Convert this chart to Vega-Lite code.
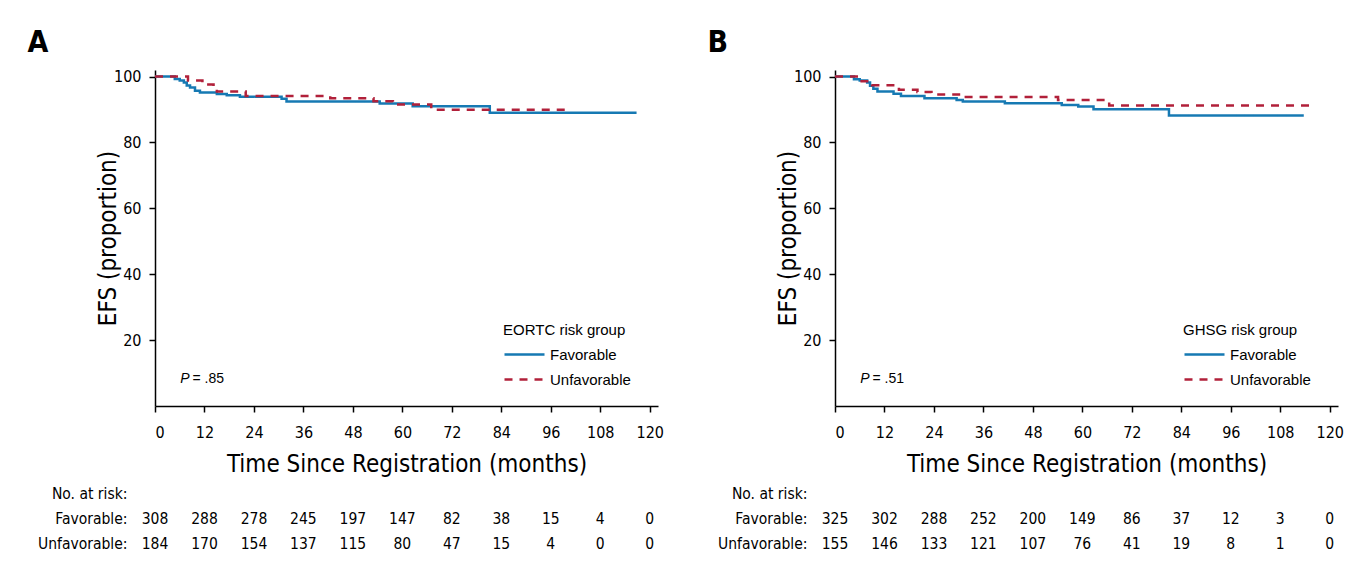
{
  "$schema": "https://vega.github.io/schema/vega-lite/v6.json",
  "background": "white",
  "padding": {"left": 27, "top": 27, "right": 5, "bottom": 5},
  "datasets": {
    "kmA": [
      {"group": "Favorable", "month": 0, "efs": 100},
      {"group": "Favorable", "month": 4.8, "efs": 99.3},
      {"group": "Favorable", "month": 6, "efs": 98.8},
      {"group": "Favorable", "month": 7, "efs": 98.2},
      {"group": "Favorable", "month": 7.7, "efs": 97.3},
      {"group": "Favorable", "month": 8.5, "efs": 96.7},
      {"group": "Favorable", "month": 9.7, "efs": 95.7},
      {"group": "Favorable", "month": 10.9, "efs": 95.2},
      {"group": "Favorable", "month": 15, "efs": 94.7},
      {"group": "Favorable", "month": 17.4, "efs": 94.3},
      {"group": "Favorable", "month": 20.6, "efs": 93.9},
      {"group": "Favorable", "month": 30.7, "efs": 93.3},
      {"group": "Favorable", "month": 31.9, "efs": 92.4},
      {"group": "Favorable", "month": 54.5, "efs": 91.8},
      {"group": "Favorable", "month": 62.5, "efs": 91.0},
      {"group": "Favorable", "month": 81.2, "efs": 89.0},
      {"group": "Favorable", "month": 116.8, "efs": 89.0},
      {"group": "Unfavorable", "month": 0, "efs": 100},
      {"group": "Unfavorable", "month": 8, "efs": 98.8},
      {"group": "Unfavorable", "month": 11.5, "efs": 97.6},
      {"group": "Unfavorable", "month": 14.2, "efs": 96.6},
      {"group": "Unfavorable", "month": 15, "efs": 95.5},
      {"group": "Unfavorable", "month": 22, "efs": 94.1},
      {"group": "Unfavorable", "month": 42.5, "efs": 93.4},
      {"group": "Unfavorable", "month": 53, "efs": 92.5},
      {"group": "Unfavorable", "month": 57.7, "efs": 91.5},
      {"group": "Unfavorable", "month": 67, "efs": 89.9},
      {"group": "Unfavorable", "month": 100.5, "efs": 89.9}
    ],
    "kmB": [
      {"group": "Favorable", "month": 0, "efs": 100},
      {"group": "Favorable", "month": 4.6, "efs": 99.2},
      {"group": "Favorable", "month": 6, "efs": 98.8},
      {"group": "Favorable", "month": 7.8, "efs": 98.2},
      {"group": "Favorable", "month": 8.5, "efs": 97.2},
      {"group": "Favorable", "month": 9.3, "efs": 96.3},
      {"group": "Favorable", "month": 10.3, "efs": 95.5},
      {"group": "Favorable", "month": 14.2, "efs": 94.8},
      {"group": "Favorable", "month": 16, "efs": 94.1},
      {"group": "Favorable", "month": 21.7, "efs": 93.4},
      {"group": "Favorable", "month": 29.5, "efs": 92.9},
      {"group": "Favorable", "month": 31, "efs": 92.4},
      {"group": "Favorable", "month": 41.2, "efs": 91.9},
      {"group": "Favorable", "month": 55, "efs": 91.4},
      {"group": "Favorable", "month": 59, "efs": 90.9},
      {"group": "Favorable", "month": 62.7, "efs": 90.1},
      {"group": "Favorable", "month": 81, "efs": 88.2},
      {"group": "Favorable", "month": 113.7, "efs": 88.2},
      {"group": "Unfavorable", "month": 0, "efs": 100},
      {"group": "Unfavorable", "month": 6, "efs": 98.6},
      {"group": "Unfavorable", "month": 9, "efs": 97.4},
      {"group": "Unfavorable", "month": 15.5, "efs": 96.0},
      {"group": "Unfavorable", "month": 20, "efs": 95.3},
      {"group": "Unfavorable", "month": 23.4, "efs": 94.6},
      {"group": "Unfavorable", "month": 30.5, "efs": 93.8},
      {"group": "Unfavorable", "month": 54.1, "efs": 92.9},
      {"group": "Unfavorable", "month": 66.5, "efs": 91.2},
      {"group": "Unfavorable", "month": 115.6, "efs": 91.2}
    ],
    "riskA": [
      {"group": "Favorable", "month": 0, "n": 308},
      {"group": "Favorable", "month": 12, "n": 288},
      {"group": "Favorable", "month": 24, "n": 278},
      {"group": "Favorable", "month": 36, "n": 245},
      {"group": "Favorable", "month": 48, "n": 197},
      {"group": "Favorable", "month": 60, "n": 147},
      {"group": "Favorable", "month": 72, "n": 82},
      {"group": "Favorable", "month": 84, "n": 38},
      {"group": "Favorable", "month": 96, "n": 15},
      {"group": "Favorable", "month": 108, "n": 4},
      {"group": "Favorable", "month": 120, "n": 0},
      {"group": "Unfavorable", "month": 0, "n": 184},
      {"group": "Unfavorable", "month": 12, "n": 170},
      {"group": "Unfavorable", "month": 24, "n": 154},
      {"group": "Unfavorable", "month": 36, "n": 137},
      {"group": "Unfavorable", "month": 48, "n": 115},
      {"group": "Unfavorable", "month": 60, "n": 80},
      {"group": "Unfavorable", "month": 72, "n": 47},
      {"group": "Unfavorable", "month": 84, "n": 15},
      {"group": "Unfavorable", "month": 96, "n": 4},
      {"group": "Unfavorable", "month": 108, "n": 0},
      {"group": "Unfavorable", "month": 120, "n": 0}
    ],
    "riskB": [
      {"group": "Favorable", "month": 0, "n": 325},
      {"group": "Favorable", "month": 12, "n": 302},
      {"group": "Favorable", "month": 24, "n": 288},
      {"group": "Favorable", "month": 36, "n": 252},
      {"group": "Favorable", "month": 48, "n": 200},
      {"group": "Favorable", "month": 60, "n": 149},
      {"group": "Favorable", "month": 72, "n": 86},
      {"group": "Favorable", "month": 84, "n": 37},
      {"group": "Favorable", "month": 96, "n": 12},
      {"group": "Favorable", "month": 108, "n": 3},
      {"group": "Favorable", "month": 120, "n": 0},
      {"group": "Unfavorable", "month": 0, "n": 155},
      {"group": "Unfavorable", "month": 12, "n": 146},
      {"group": "Unfavorable", "month": 24, "n": 133},
      {"group": "Unfavorable", "month": 36, "n": 121},
      {"group": "Unfavorable", "month": 48, "n": 107},
      {"group": "Unfavorable", "month": 60, "n": 76},
      {"group": "Unfavorable", "month": 72, "n": 41},
      {"group": "Unfavorable", "month": 84, "n": 19},
      {"group": "Unfavorable", "month": 96, "n": 8},
      {"group": "Unfavorable", "month": 108, "n": 1},
      {"group": "Unfavorable", "month": 120, "n": 0}
    ]
  },
  "hconcat": [
    {
      "title": {"text": "A", "anchor": "start", "offset": 11, "dx": -10},
      "spacing": 5,
      "vconcat": [
        {
          "width": 503,
          "height": 336,
          "layer": [
            {
              "data": {"name": "kmA"},
              "mark": {"type": "line", "interpolate": "step-after", "strokeWidth": 2.5},
              "encoding": {
                "x": {"field": "month", "type": "quantitative", "scale": {"domain": [0, 122], "nice": false}, "axis": {"values": [0, 12, 24, 36, 48, 60, 72, 84, 96, 108, 120], "title": "Time Since Registration (months)"}},
                "y": {"field": "efs", "type": "quantitative", "scale": {"domain": [0, 102], "nice": false}, "axis": {"values": [20, 40, 60, 80, 100], "title": "EFS (proportion)"}},
                "color": {"field": "group", "type": "nominal", "scale": {"domain": ["Favorable", "Unfavorable"], "range": ["#1679b3", "#b1203a"]}, "legend": {"title": "EORTC risk group"}},
                "strokeDash": {"field": "group", "type": "nominal", "scale": {"domain": ["Favorable", "Unfavorable"], "range": [[1, 0], [8, 7]]}, "legend": {"title": "EORTC risk group"}}
              }
            },
            {
              "data": {"values": [{"t": "P"}]},
              "mark": {"type": "text", "align": "left", "baseline": "middle", "fontStyle": "italic", "font": "Liberation Sans", "fontSize": 14},
              "encoding": {"x": {"datum": 6.1}, "y": {"datum": 8.2}, "text": {"field": "t"}}
            },
            {
              "data": {"values": [{"t": "= .85"}]},
              "mark": {"type": "text", "align": "left", "baseline": "middle", "font": "Liberation Sans", "fontSize": 14},
              "encoding": {"x": {"datum": 9.1}, "y": {"datum": 8.2}, "text": {"field": "t"}}
            }
          ]
        },
        {
          "width": 503,
          "height": 75,
          "data": {"name": "riskA"},
          "mark": {"type": "text", "font": "Liberation Sans Narrow, DejaVu Sans Condensed, sans-serif", "fontSize": 15.5, "baseline": "middle"},
          "encoding": {
            "x": {"field": "month", "type": "quantitative", "scale": {"domain": [0, 122], "nice": false}, "axis": null},
            "y": {"field": "group", "type": "nominal", "scale": {"type": "point", "padding": 0.5, "domain": ["No. at risk", "Favorable", "Unfavorable"]}, "axis": {"title": null, "domain": false, "ticks": false, "labelPadding": 28, "labelFontSize": 15.5, "labelExpr": "datum.value + ':'"}},
            "text": {"field": "n", "type": "quantitative"}
          }
        }
      ]
    },
    {
      "title": {"text": "B", "anchor": "start", "offset": 11, "dx": -10},
      "spacing": 5,
      "vconcat": [
        {
          "width": 503,
          "height": 336,
          "layer": [
            {
              "data": {"name": "kmB"},
              "mark": {"type": "line", "interpolate": "step-after", "strokeWidth": 2.5},
              "encoding": {
                "x": {"field": "month", "type": "quantitative", "scale": {"domain": [0, 122], "nice": false}, "axis": {"values": [0, 12, 24, 36, 48, 60, 72, 84, 96, 108, 120], "title": "Time Since Registration (months)"}},
                "y": {"field": "efs", "type": "quantitative", "scale": {"domain": [0, 102], "nice": false}, "axis": {"values": [20, 40, 60, 80, 100], "title": "EFS (proportion)"}},
                "color": {"field": "group", "type": "nominal", "scale": {"domain": ["Favorable", "Unfavorable"], "range": ["#1679b3", "#b1203a"]}, "legend": {"title": "GHSG risk group"}},
                "strokeDash": {"field": "group", "type": "nominal", "scale": {"domain": ["Favorable", "Unfavorable"], "range": [[1, 0], [8, 7]]}, "legend": {"title": "GHSG risk group"}}
              }
            },
            {
              "data": {"values": [{"t": "P"}]},
              "mark": {"type": "text", "align": "left", "baseline": "middle", "fontStyle": "italic", "font": "Liberation Sans", "fontSize": 14},
              "encoding": {"x": {"datum": 6.1}, "y": {"datum": 8.2}, "text": {"field": "t"}}
            },
            {
              "data": {"values": [{"t": "= .51"}]},
              "mark": {"type": "text", "align": "left", "baseline": "middle", "font": "Liberation Sans", "fontSize": 14},
              "encoding": {"x": {"datum": 9.1}, "y": {"datum": 8.2}, "text": {"field": "t"}}
            }
          ]
        },
        {
          "width": 503,
          "height": 75,
          "data": {"name": "riskB"},
          "mark": {"type": "text", "font": "Liberation Sans Narrow, DejaVu Sans Condensed, sans-serif", "fontSize": 15.5, "baseline": "middle"},
          "encoding": {
            "x": {"field": "month", "type": "quantitative", "scale": {"domain": [0, 122], "nice": false}, "axis": null},
            "y": {"field": "group", "type": "nominal", "scale": {"type": "point", "padding": 0.5, "domain": ["No. at risk", "Favorable", "Unfavorable"]}, "axis": {"title": null, "domain": false, "ticks": false, "labelPadding": 28, "labelFontSize": 15.5, "labelExpr": "datum.value + ':'"}},
            "text": {"field": "n", "type": "quantitative"}
          }
        }
      ]
    }
  ],
  "spacing": 43,
  "resolve": {"scale": {"color": "independent", "strokeDash": "independent"}},
  "config": {
    "view": {"stroke": null},
    "font": "Liberation Sans Narrow, DejaVu Sans Condensed, sans-serif",
    "title": {"font": "Liberation Sans Narrow, DejaVu Sans Condensed, sans-serif", "fontSize": 30, "fontWeight": "bold", "color": "black"},
    "axis": {
      "grid": false,
      "domainColor": "black",
      "domainWidth": 1.5,
      "tickColor": "black",
      "tickWidth": 1.5,
      "tickSize": 6,
      "labelFont": "Liberation Sans Narrow, DejaVu Sans Condensed, sans-serif",
      "labelFontSize": 16,
      "labelColor": "black",
      "titleFont": "Liberation Sans Narrow, DejaVu Sans Condensed, sans-serif",
      "titleFontSize": 24,
      "titleFontWeight": "normal",
      "titleColor": "black"
    },
    "axisX": {"labelPadding": 12, "titlePadding": 12},
    "axisY": {"labelPadding": 8, "titlePadding": -7},
    "legend": {
      "orient": "none",
      "legendX": 348,
      "legendY": 253,
      "symbolType": "stroke",
      "symbolSize": 1600,
      "symbolStrokeWidth": 2.5,
      "clipHeight": 25,
      "rowPadding": 0,
      "titleFont": "Liberation Sans",
      "titleFontSize": 15,
      "titleFontWeight": "normal",
      "titleColor": "black",
      "titlePadding": 4,
      "labelFont": "Liberation Sans",
      "labelFontSize": 15,
      "labelColor": "black",
      "labelOffset": 4
    }
  }
}
